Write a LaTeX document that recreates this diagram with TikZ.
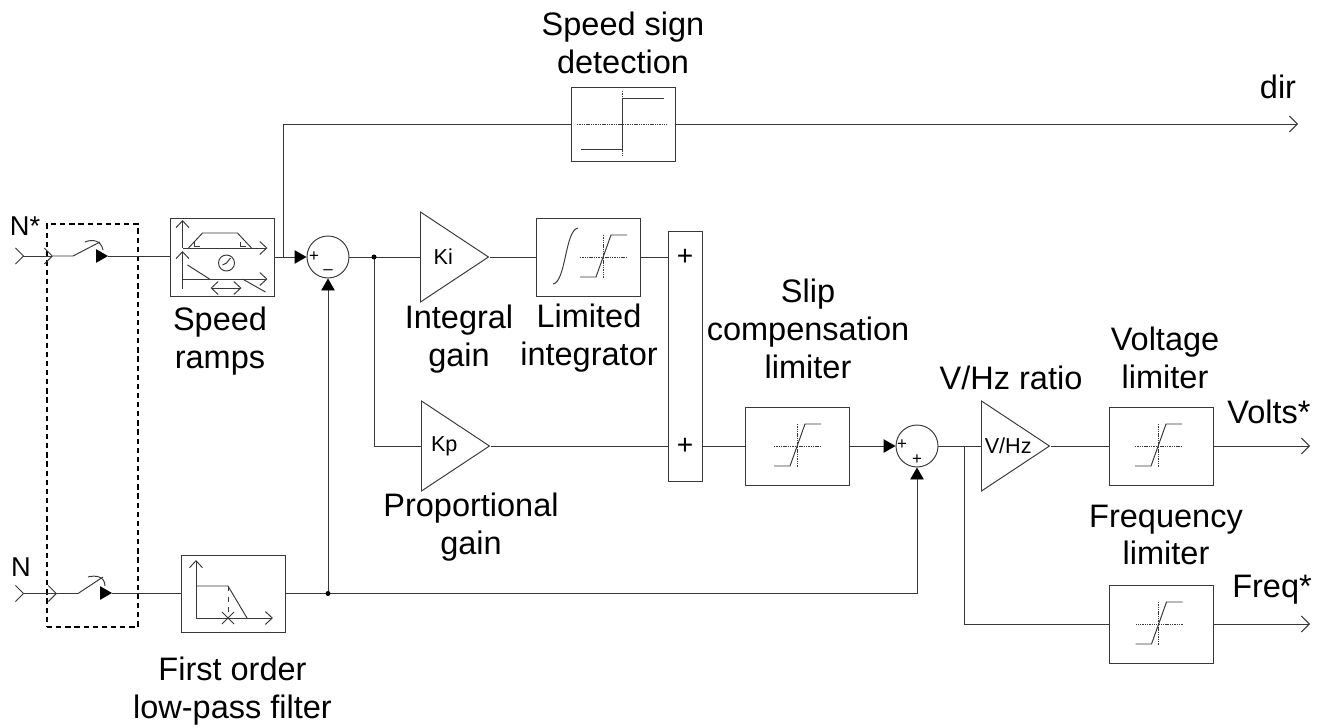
\documentclass[tikz,border=0pt]{standalone}
\usepackage{fontspec}
\setmainfont{Liberation Sans}
\usetikzlibrary{arrows.meta,shapes.geometric}

\begin{document}
\begin{tikzpicture}[
            x=0.02cm, y=-0.02cm,
            color=black!78, text=black, line width=0.55pt,
            box/.style={draw, minimum width=2.08cm, minimum height=1.56cm, inner sep=0pt},
            amp/.style={draw, shape=isosceles triangle, isosceles triangle stretches, inner sep=0pt, minimum width=1.8cm, minimum height=1.36cm, anchor=lower side, font=\fontsize{12.3}{14}\selectfont},
            summer/.style={draw, circle, minimum size=0.84cm, inner sep=0pt},
            txt/.style={align=center, inner sep=0pt, font=\fontsize{18.5}{21.5}\selectfont},
            inlbl/.style={inner sep=0pt, font=\fontsize{15.5}{18}\selectfont},
            sgn/.style={inner sep=0pt, font=\fontsize{9.6}{10}\selectfont},
            barplus/.style={inner sep=0pt, font=\fontsize{16}{16}\selectfont},
            wire/.style={line cap=butt},
            arr/.style={-{Triangle[length=.24cm, width=.27cm, color=black]}},
            outarr/.style={-{Straight Barb[length=.16cm, width=.32cm]}},
            port/.style={{Straight Barb[reversed, length=.16cm, width=.32cm]}-{Straight Barb[length=.16cm, width=.32cm]}},
            axistip/.style={-{Straight Barb[length=.14cm, width=.26cm]}},
            fine/.style={dash pattern=on 0.8pt off 0.5pt},
            limiticon/.pic={
                \draw[fine] (-26,0) -- (21,0);
                \draw[fine] (-3,-22) -- (-3,21);
                \draw (-26,20) -- (-10,20) -- (5,-22) -- (21,-22);
            },
            signicon/.pic={
                \draw[fine] (-46,0) -- (45,0);
                \draw[fine] (-1,-33) -- (-1,33);
                \draw (-42,25) -- (-1,25) -- (-1,-26) -- (41,-26);
            },
            lowpassicon/.pic={
                \draw[axistip] (-37,24) -- (-37,-34);
                \draw[axistip] (-37,24) -- (40,24);
                \draw (-37,-8) -- (-5,-8) -- (14,24);
                \draw[dashed] (-5,-8) -- (-5,24);
                \draw (-11,18) -- (1,30) (-11,30) -- (1,18);
            },
            rampicon/.pic={
                \draw[axistip] (-40,-9) -- (-40,-37);
                \draw[axistip] (-40,-9) -- (45,-9);
                \draw (-34,-9) -- (-20,-24) -- (15,-24) -- (29,-9);
                \draw (-28,-15) -- (-28,-11) -- (-23,-11);
                \draw (18,-15) -- (18,-11) -- (23,-11);
                \draw[axistip] (-40,32) -- (-40,-6);
                \draw[axistip] (-40,22) -- (45,22);
                \draw (-35,8) -- (-13,22);
                \draw (20,22) -- (43,35);
                \draw (4,6) circle (0.16cm);
                \draw (4,6) -- (8,1) (4,6) -- (0,8);
                \draw[{Straight Barb[length=.14cm, width=.26cm]}-{Straight Barb[length=.14cm, width=.26cm]}] (-12,31) -- (19,31);
            }
        ]
            \useasboundingbox (0,0) rectangle (1324,727);

            \node[box] (ramps) at (222.5,257) {};
            \node[summer] (suma) at (328,257) {};
            \node[amp] (ki) at (420,257) {Ki};
            \node[box] (integ) at (588,257) {};
            \node[amp] (kp) at (421,446) {Kp};
            \node[box, minimum width=0.68cm, minimum height=5cm] (bar) at (685,356.5) {};
            \node[barplus] (plusa) at (685,257) {+};
            \node[barplus] (plusb) at (685,446) {+};
            \node[box] (slip) at (797,446) {};
            \node[summer] (sumb) at (917,446) {};
            \node[amp] (vhz) at (981,446) {V/Hz};
            \node[box] (vlim) at (1161,446) {};
            \node[box] (flim) at (1161.5,624) {};
            \node[box, minimum height=1.48cm] (sign) at (623,124) {};
            \node[box, minimum height=1.54cm] (lowpass) at (233,593.5) {};
            \node[draw=black, dash pattern=on 3pt off 2.2pt, line width=1.4pt, minimum width=1.82cm, minimum height=8.06cm, inner sep=0pt] (sel) at (92.5,425.5) {};

            \coordinate (ina) at (15,256);
            \coordinate (inat) at (53,256);
            \coordinate (swa) at (73,256);
            \coordinate (swat) at (100,242);
            \coordinate (inb) at (15,593.5);
            \coordinate (inbt) at (57,593.5);
            \coordinate (swb) at (78,593.5);
            \coordinate (swbt) at (103,577);
            \coordinate (swc) at (96,256);
            \coordinate (swd) at (108,256);
            \coordinate (swe) at (100,593);
            \coordinate (swf) at (112,593);
            \coordinate (brup) at (283,257);
            \coordinate (brki) at (374,257);
            \coordinate (brfb) at (328,593.5);
            \coordinate (brfr) at (964,446);
            \coordinate (dirend) at (1298,124);
            \coordinate (voltend) at (1310,446);
            \coordinate (freqend) at (1310,624);

            \draw[port] (ina) -- (inat);
            \draw[wire] (inat) -- (swa) -- (swat);
            \draw[wire] (85,242) .. controls (92,239) and (101,240) .. (103,250);
            \draw[arr] (swc) -- (swd);
            \draw[wire] (swd) -- (ramps.west |- swd);
            \draw[port] (inb) -- (inbt);
            \draw[wire] (inbt) -- (swb) -- (swbt);
            \draw[wire] (88,577) .. controls (95,575) and (105,576) .. (105,586);
            \draw[arr] (swe) -- (swf);
            \draw[wire] (swf) -- (lowpass.west |- swf);

            \draw[wire] (ramps.east) -- (brup);
            \draw[arr] (brup) -- (suma.west);
            \draw[wire] (brup) -- (brup |- sign.west) -- (sign.west);
            \draw[outarr] (sign.east) -- (dirend);
            \draw[wire] (suma.east) -- (brki);
            \draw[wire] (brki) -- (ki.lower side);
            \draw[wire] (brki) |- (kp.lower side);
            \draw[wire] (ki.apex) -- (integ.west);
            \draw[wire] (integ.east) -- (plusa -| bar.west);
            \draw[wire] (kp.apex) -- (plusb -| bar.west);
            \draw[wire] (plusb -| bar.east) -- (slip.west);
            \draw[arr] (slip.east) -- (sumb.west);
            \draw[wire] (sumb.east) -- (brfr);
            \draw[wire] (brfr) -- (vhz.lower side);
            \draw[wire] (vhz.apex) -- (vlim.west);
            \draw[outarr] (vlim.east) -- (voltend);
            \draw[wire] (brfr) |- (flim.west);
            \draw[outarr] (flim.east) -- (freqend);
            \draw[wire] (lowpass.east) -- (brfb);
            \draw[arr] (brfb) -- (suma.south);
            \draw[arr] (brfb) -| (sumb.south);
            \fill[black] (brki) circle (0.05cm);
            \fill[black] (brfb) circle (0.05cm);

            \pic at (606,257) {limiticon};
            \draw (553,284) .. controls (566,282) and (565,230) .. (578,228);
            \pic at (800,446) {limiticon};
            \pic at (1161,446) {limiticon};
            \pic at (1161.5,624) {limiticon};
            \pic at (623,124) {signicon};
            \pic at (233,594) {lowpassicon};
            \pic at (222.5,257) {rampicon};

            \node[sgn] (suma1) at (314,257) {+};
            \node[sgn] (suma2) at (328,272) {–};
            \node[sgn] (sumb1) at (902,445) {+};
            \node[sgn] (sumb2) at (917,460) {+};

            \node[txt] (lblsign) at (623,43) {Speed sign\\detection};
            \node[txt] (lbldir) at (1278,87) {dir};
            \node[inlbl] (lblnstar) at (25,226) {N*};
            \node[inlbl] (lbln) at (21,567) {N};
            \node[txt] (lblramps) at (220,341) {Speed\\ramps};
            \node[txt] (lblki) at (459,339) {Integral\\gain};
            \node[txt] (lblinteg) at (589,338) {Limited\\integrator};
            \node[txt] (lblslip) at (808,329) {Slip\\compensation\\limiter};
            \node[txt] (lblkp) at (471,527) {Proportional\\gain};
            \node[txt] (lblvhz) at (1011,378) {V/Hz ratio};
            \node[txt] (lblvlim) at (1165,358) {Voltage\\limiter};
            \node[txt] (lblflim) at (1166,535) {Frequency\\limiter};
            \node[txt] (lblvolts) at (1269,412) {Volts*};
            \node[txt] (lblfreq) at (1272,590) {Freq*};
            \node[txt] (lbllow) at (232.5,691) {First order\\low-pass filter};
        \end{tikzpicture}
\end{document}
